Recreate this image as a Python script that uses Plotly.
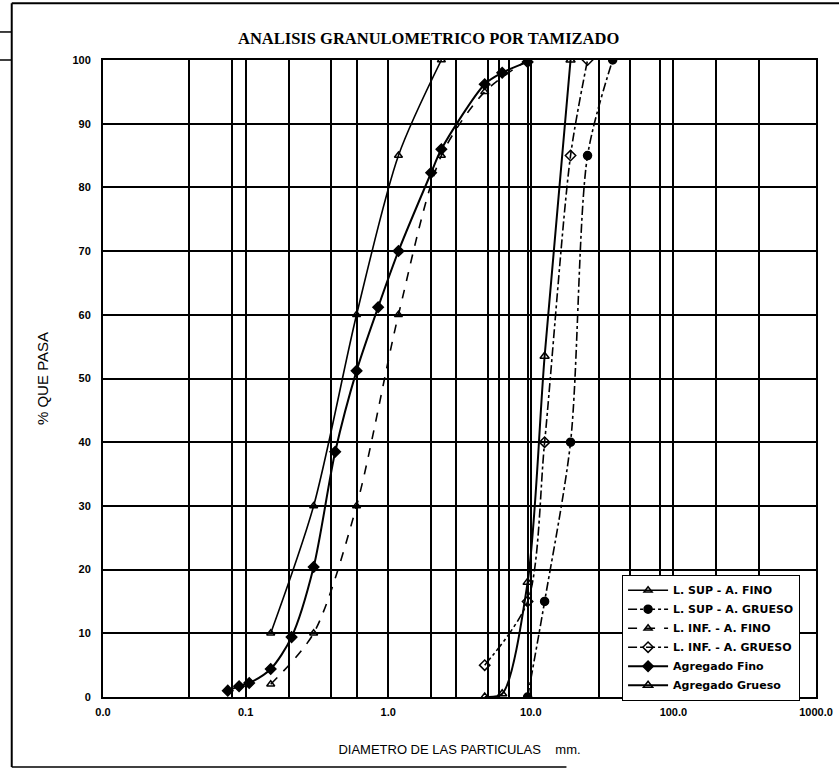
import plotly.graph_objects as go

# ---------------- data ----------------
sup_fino_mm = [0.15, 0.3, 0.6, 1.18, 2.36]
sup_fino_pct = [10, 30, 60, 85, 100]

inf_fino_mm = [0.15, 0.3, 0.6, 1.18, 2.36, 4.75, 9.5]
inf_fino_pct = [2, 10, 30, 60, 85, 95, 100]

sup_grueso_mm = [9.5, 12.5, 19, 25, 37.5]
sup_grueso_pct = [0, 15, 40, 85, 100]

inf_grueso_mm = [4.75, 9.5, 12.5, 19, 25]
inf_grueso_pct = [5, 15, 40, 85, 100]

fino_mm = [0.075, 0.09, 0.106, 0.15, 0.21, 0.3, 0.425, 0.6, 0.85, 1.18, 2.0, 2.36, 4.75, 6.3, 9.5]
fino_pct = [1.0, 1.7, 2.2, 4.4, 9.4, 20.4, 38.5, 51.2, 61.2, 70.0, 82.3, 86.0, 96.2, 98.0, 99.7]

grueso_mm = [4.75, 6.3, 9.5, 12.5, 19]
grueso_pct = [0, 0.5, 18, 53.5, 100]

grid_x = [0.01, 0.04, 0.08, 0.1, 0.2, 0.4, 0.6, 1, 2, 3, 5, 6, 7, 9.5, 10,
          30, 50, 80, 100, 200, 400, 1000]
decade_labels = {0.01: "0.0", 0.1: "0.1", 1: "1.0", 10: "10.0", 100: "100.0", 1000: "1000.0"}
y_ticks = [0, 10, 20, 30, 40, 50, 60, 70, 80, 90, 100]

# ---------------- figure ----------------
fig = go.Figure()
black = "black"

def add(name, xs, ys, dash, symbol, width=1.6, size=7):
    fig.add_trace(go.Scatter(
        x=xs, y=ys, name=name, mode="lines+markers",
        line=dict(color=black, width=width, dash=dash, shape="spline", smoothing=0.8),
        marker=dict(symbol=symbol, size=size, color=black,
                    line=dict(color=black, width=1.5)),
    ))

add("L. SUP - A. FINO", sup_fino_mm, sup_fino_pct, "solid", "triangle-up-open")
add("L. SUP - A. GRUESO", sup_grueso_mm, sup_grueso_pct, "dashdot", "circle", size=8)
add("L. INF. - A. FINO", inf_fino_mm, inf_fino_pct, "dash", "triangle-up-open")
add("L. INF. - A. GRUESO", inf_grueso_mm, inf_grueso_pct, "dashdot", "diamond-open", size=8)
add("Agregado Fino", fino_mm, fino_pct, "solid", "diamond", width=2, size=8)
add("Agregado Grueso", grueso_mm, grueso_pct, "solid", "triangle-up-open", width=2, size=8)

fig.update_xaxes(
    type="log", range=[-2, 3],
    tickvals=grid_x,
    ticktext=[decade_labels.get(v, "") for v in grid_x],
    showgrid=True, gridcolor=black, gridwidth=2,
    showline=True, linecolor=black, linewidth=2, mirror=True,
    ticks="", zeroline=False, ticklabelstandoff=4, automargin=False,
    ticklabeloverflow="allow",
    tickfont=dict(family="Liberation Sans", size=11, color=black, weight="bold"),
    title=dict(text="DIAMETRO DE LAS PARTICULAS    mm.",
               font=dict(family="Liberation Sans", size=13, color=black), standoff=28),
)
fig.update_yaxes(
    range=[0, 100], tickvals=y_ticks,
    showgrid=True, gridcolor=black, gridwidth=2,
    showline=True, linecolor=black, linewidth=2, mirror=True,
    ticks="", zeroline=False, ticklabelstandoff=8, automargin=False,
    tickfont=dict(family="Liberation Sans", size=11, color=black, weight="bold"),
    title=dict(text="% QUE PASA",
               font=dict(family="Liberation Sans", size=15, color=black), standoff=20),
)

fig.update_layout(
    width=839, height=770,
    margin=dict(l=103, r=23, t=60, b=73),
    paper_bgcolor="white", plot_bgcolor="white",
    showlegend=True,
    legend=dict(x=0.728, y=0.192, xanchor="left", yanchor="top",
                bgcolor="white", bordercolor=black, borderwidth=1,
                font=dict(family="DejaVu Sans", size=11, color=black, weight="bold"),
                tracegroupgap=0, itemwidth=40),
    annotations=[dict(text="<b>ANALISIS GRANULOMETRICO POR TAMIZADO</b>",
                      xref="paper", yref="paper", x=0.457, y=1.0, yshift=22,
                      xanchor="center", yanchor="middle", showarrow=False,
                      font=dict(family="Liberation Serif", size=16.5, color=black))],
    shapes=[
        dict(type="line", xref="paper", yref="paper", x0=-0.128, x1=1.04, y0=1.089, y1=1.089,
             line=dict(color=black, width=2)),
        dict(type="line", xref="paper", yref="paper", x0=-0.128, x1=-0.128, y0=1.089, y1=-0.11,
             line=dict(color=black, width=2)),
        dict(type="line", xref="paper", yref="paper", x0=-0.128, x1=0.65, y0=-0.11, y1=-0.11,
             line=dict(color=black, width=1.5)),
        dict(type="line", xref="paper", yref="paper", x0=-0.145, x1=-0.128, y0=1.044, y1=1.044,
             line=dict(color=black, width=1.5)),
        dict(type="line", xref="paper", yref="paper", x0=-0.145, x1=-0.128, y0=1.0, y1=1.0,
             line=dict(color=black, width=1.5)),
    ],
)

fig.write_html(
    "out.html",
    config={"displayModeBar": False},
    post_script="document.body.style.margin='0';document.body.style.padding='0';"
                "document.body.style.overflow='hidden';",
)
